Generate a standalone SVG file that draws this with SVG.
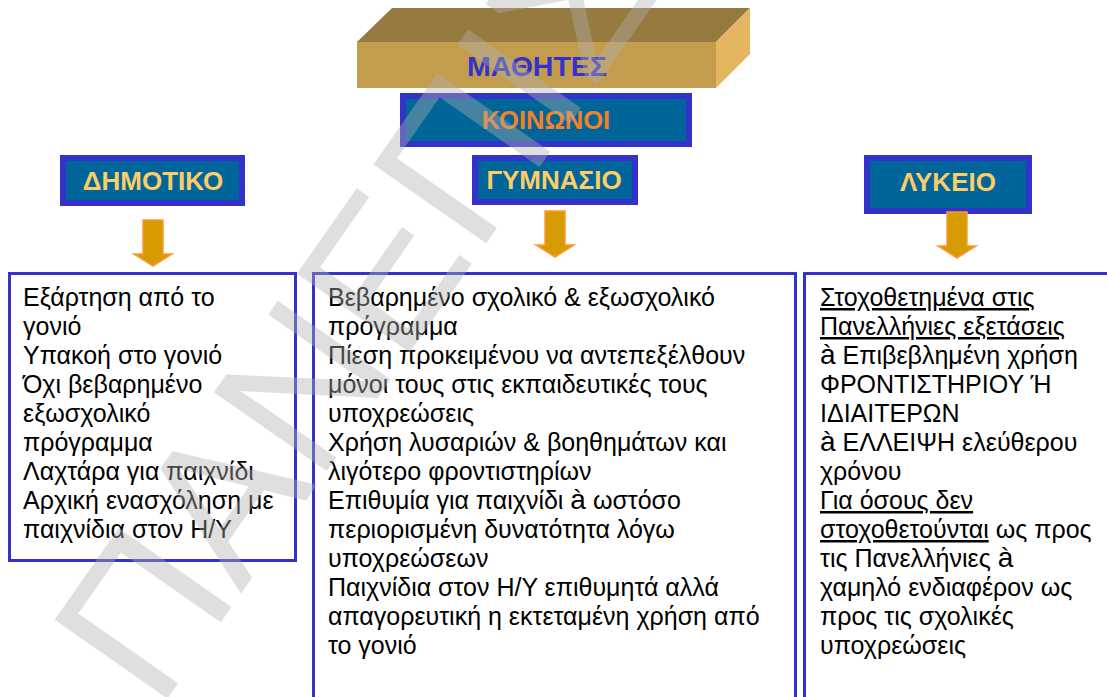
<svg xmlns="http://www.w3.org/2000/svg" width="1107" height="697" viewBox="0 0 1107 697">
<style>
  .hdr { font-family: "Liberation Sans", Arial, sans-serif; font-weight: bold; text-anchor: middle; }
  .lvl { fill: #006699; stroke: #3333CC; stroke-width: 6; }
  .lvltxt { fill: #FFCC66; font-size: 26px; }
  .box { fill: #FFFFFF; stroke: #3333CC; stroke-width: 3; }
  .body { font-family: "Liberation Sans", Arial, sans-serif; font-size: 25px; fill: #000000; }
  .u { text-decoration: underline; }
  .wd { font-size: 28px; }
  .arrow { fill: #D59B00; stroke: #FF9933; stroke-width: 1.5; stroke-linejoin: miter; }
  .wm { font-family: "Liberation Sans", Arial, sans-serif; font-size: 200px; fill: #B0B0B0; opacity: 0.4; }
</style>

<g id="mathites">
  <polygon points="357,42 392,8 750,8 716,42" fill="#977A3F"/>
  <polygon points="716,42 750,8 750,54 716,88" fill="#E3B65F"/>
  <rect x="357" y="42" width="359" height="46" fill="#C39C4E"/>
  <text class="hdr" x="537" y="76" font-size="28.5" fill="#3333CC">ΜΑΘΗΤΕΣ</text>
</g>

<g id="koinonoi">
  <rect class="lvl" x="403" y="96" width="286" height="48"/>
  <text class="hdr" x="546" y="129" font-size="25.5" fill="#F58025">ΚΟΙΝΩΝΟΙ</text>
</g>

<g id="dimotiko">
  <rect class="lvl" x="63" y="158" width="179" height="45"/>
  <text class="hdr lvltxt" x="153" y="190">ΔΗΜΟΤΙΚΟ</text>
</g>

<g id="gymnasio">
  <rect class="lvl" x="475" y="158" width="160" height="44"/>
  <text class="hdr lvltxt" x="554" y="189" font-size="25.5">ΓΥΜΝΑΣΙΟ</text>
</g>

<g id="lykeio">
  <rect class="lvl" x="867" y="158" width="162" height="53"/>
  <text class="hdr lvltxt" x="948" y="191">ΛΥΚΕΙΟ</text>
</g>

<g id="connectors">
  <path class="arrow" d="M143,220 H163 V254 H172 L153,266 L134,254 H143 Z"/>
  <path class="arrow" d="M545,211 H565 V245 H574 L555,257 L536,245 H545 Z"/>
  <path class="arrow" d="M947,212 H967 V246 H976 L957,258 L938,246 H947 Z"/>
</g>

<g id="dimotiko-box">
  <rect class="box" x="9.5" y="273.5" width="286" height="287"/>
  <text class="body">
    <tspan x="23" y="306">Εξάρτηση από το</tspan>
    <tspan x="23" y="335">γονιό</tspan>
    <tspan x="23" y="364">Υπακοή στο γονιό</tspan>
    <tspan x="23" y="393">Όχι βεβαρημένο</tspan>
    <tspan x="23" y="422">εξωσχολικό</tspan>
    <tspan x="23" y="451">πρόγραμμα</tspan>
    <tspan x="23" y="480">Λαχτάρα για παιχνίδι</tspan>
    <tspan x="23" y="509">Αρχική ενασχόληση με</tspan>
    <tspan x="23" y="538">παιχνίδια στον Η/Υ</tspan>
  </text>
</g>

<g id="gymnasio-box">
  <rect class="box" x="313.5" y="273.5" width="482" height="440"/>
  <text class="body">
    <tspan x="328" y="306">Βεβαρημένο σχολικό &amp; εξωσχολικό</tspan>
    <tspan x="328" y="335">πρόγραμμα</tspan>
    <tspan x="328" y="364">Πίεση προκειμένου να αντεπεξέλθουν</tspan>
    <tspan x="328" y="393">μόνοι τους στις εκπαιδευτικές τους</tspan>
    <tspan x="328" y="422">υποχρεώσεις</tspan>
    <tspan x="328" y="451">Χρήση λυσαριών &amp; βοηθημάτων και</tspan>
    <tspan x="328" y="480">λιγότερο φροντιστηρίων</tspan>
    <tspan x="328" y="509">Επιθυμία για παιχνίδι <tspan class="wd">à</tspan> ωστόσο</tspan>
    <tspan x="328" y="538">περιορισμένη δυνατότητα λόγω</tspan>
    <tspan x="328" y="567">υποχρεώσεων</tspan>
    <tspan x="328" y="596">Παιχνίδια στον Η/Υ επιθυμητά αλλά</tspan>
    <tspan x="328" y="625">απαγορευτική η εκτεταμένη χρήση από</tspan>
    <tspan x="328" y="654">το γονιό</tspan>
  </text>
</g>

<g id="lykeio-box">
  <rect class="box" x="804.5" y="273.5" width="320" height="440"/>
  <text class="body">
    <tspan x="820" y="306" class="u">Στοχοθετημένα στις</tspan>
    <tspan x="820" y="335" class="u">Πανελλήνιες εξετάσεις</tspan>
    <tspan x="820" y="364"><tspan class="wd">à</tspan> Επιβεβλημένη χρήση</tspan>
    <tspan x="820" y="393">ΦΡΟΝΤΙΣΤΗΡΙΟΥ Ή</tspan>
    <tspan x="820" y="422">ΙΔΙΑΙΤΕΡΩΝ</tspan>
    <tspan x="820" y="451"><tspan class="wd">à</tspan> ΕΛΛΕΙΨΗ ελεύθερου</tspan>
    <tspan x="820" y="480">χρόνου</tspan>
    <tspan x="820" y="509" class="u">Για όσους δεν</tspan>
    <tspan x="820" y="538"><tspan class="u">στοχοθετούνται</tspan> ως προς</tspan>
    <tspan x="820" y="567">τις Πανελλήνιες <tspan class="wd">à</tspan></tspan>
    <tspan x="820" y="596">χαμηλό ενδιαφέρον ως</tspan>
    <tspan x="820" y="625">προς τις σχολικές</tspan>
    <tspan x="820" y="654">υποχρεώσεις</tspan>
  </text>
</g>

<g id="watermark">
  <text class="wm" transform="translate(158,712) rotate(-55)">ΠΑΝΕΠΙΣ</text>
</g>
</svg>
